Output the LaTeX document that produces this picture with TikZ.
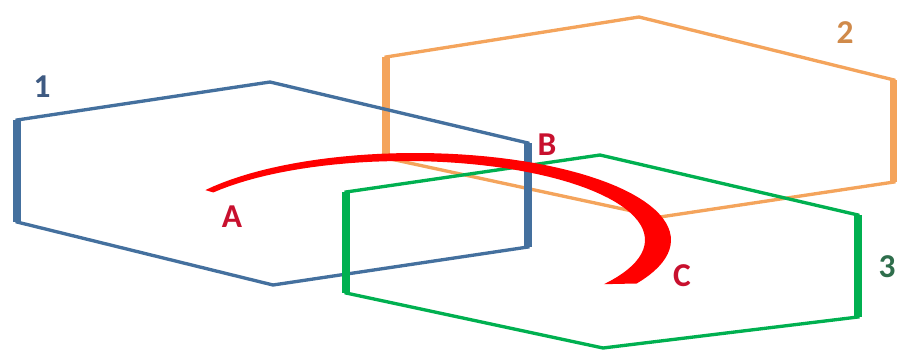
\documentclass[tikz,border=0pt]{standalone}
\usepackage{fontspec}
\setmainfont{Carlito}
\definecolor{hexblue}{HTML}{44709E}
\definecolor{hexorange}{HTML}{F4A45C}
\definecolor{hexgreen}{HTML}{00B050}
\definecolor{arcred}{HTML}{FF0000}
\definecolor{lblred}{HTML}{C8102E}
\definecolor{lblblue}{HTML}{3E5A82}
\definecolor{lblorange}{HTML}{D08A4A}
\definecolor{lblgreen}{HTML}{2F6E4C}

\begin{document}
\begin{tikzpicture}[x=0.02cm,y=-0.02cm,
  edge/.style={line width=1.9pt,line join=miter},
  side/.style={line width=4.5pt},
  lbl/.style={font=\fontsize{19}{21}\selectfont\bfseries,inner sep=0pt}]
 \useasboundingbox (0,0) rectangle (897,352);
 % hexagon 2
 \draw[hexorange,edge] (386,57)--(639,17)--(894,80)--(894,182)--(660,217)--(386,158)--cycle;
 \draw[hexorange,side] (386,57)--(386,158);
 \draw[hexorange,side] (894,80)--(894,182);
 % hexagon 1
 \draw[hexblue,edge] (17,120)--(270,82)--(528,143)--(528,247)--(273,285)--(17,222)--cycle;
 \draw[hexblue,side] (17,120)--(17,222);
 \draw[hexblue,side] (528,143)--(528,247);
 % hexagon 3
 \draw[hexgreen,edge] (346,192)--(600,155)--(858,215)--(858,317)--(603,348)--(346,293)--cycle;
 \draw[hexgreen,side] (346,192)--(346,293);
 \draw[hexgreen,side] (858,215)--(858,317);
 % the red arc
 \fill[arcred] plot[domain=145:-30,samples=60] ({415+256*cos(\x)},{240-87*sin(\x)})
   -- plot[domain=-34:143,samples=60] ({405+240*cos(\x)},{240-79*sin(\x)}) -- cycle;
 \node[lbl,text=lblblue] (one) at (42,87) {1};
 \node[lbl,text=lblorange] (two) at (845,33) {2};
 \node[lbl,text=lblgreen,anchor=east] (three) at (896,267) {3};
 \node[lbl,text=lblred] (ptA) at (232,217) {A};
 \node[lbl,text=lblred] (ptB) at (547,145) {B};
 \node[lbl,text=lblred] (ptC) at (682,276) {C};
\end{tikzpicture}
\end{document}
